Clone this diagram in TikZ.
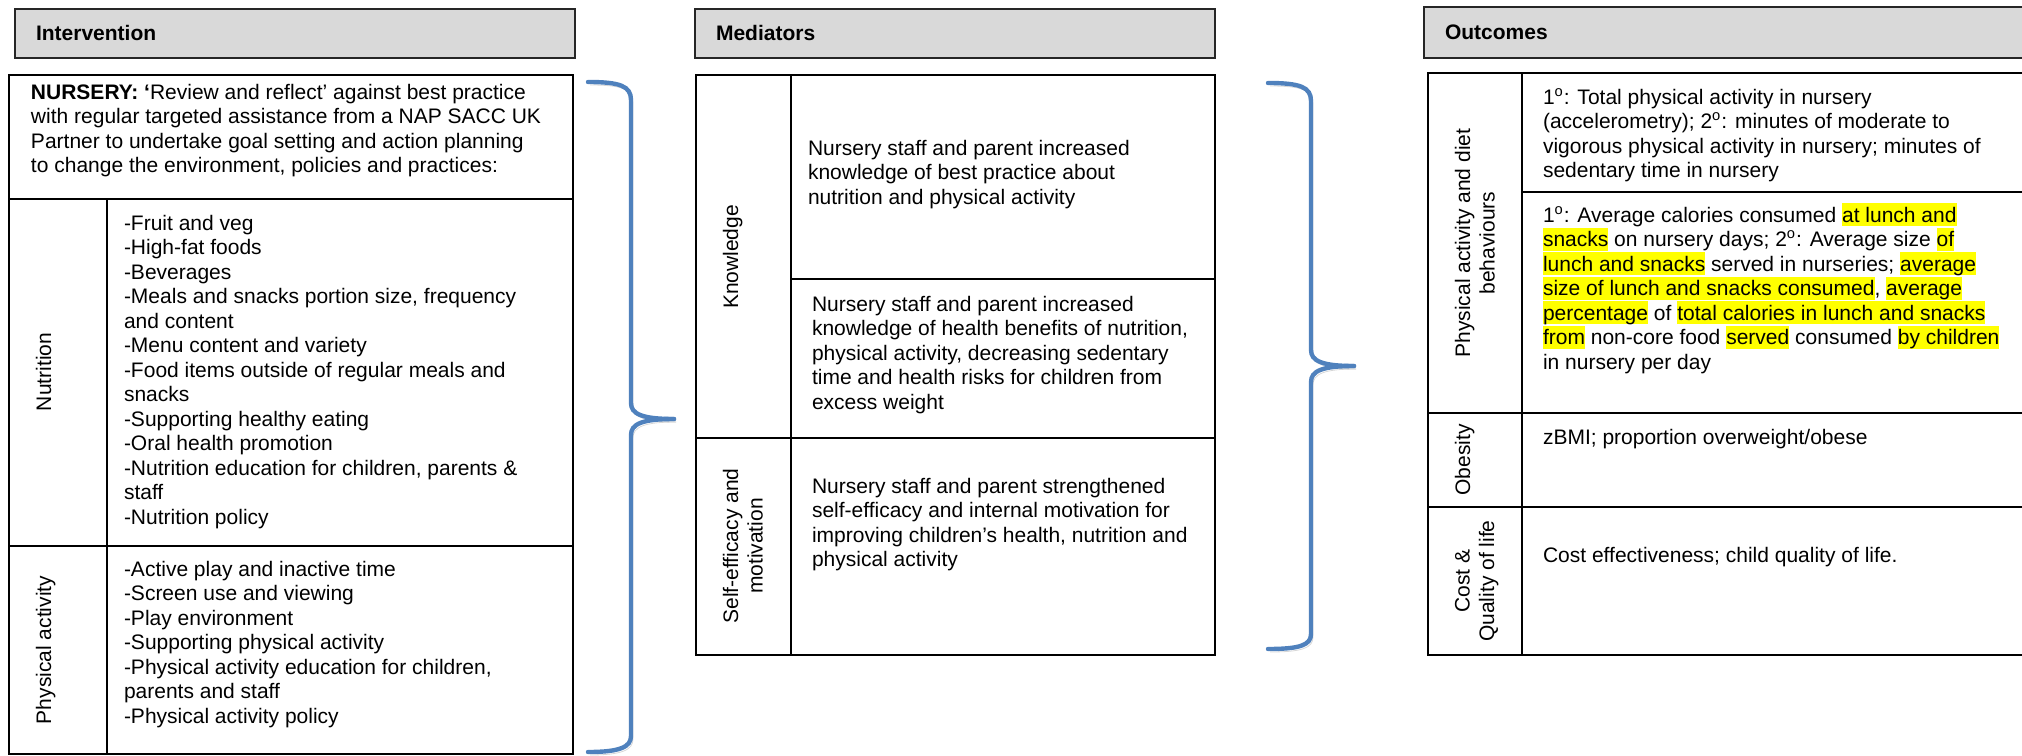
\documentclass[tikz,border=0pt]{standalone}
\usepackage{fontspec}
\setmainfont{Liberation Sans}
\usepackage{tikz}
\usetikzlibrary{arrows}
\definecolor{cd9d9d9}{RGB}{217,217,217}
\definecolor{c4f81bd}{RGB}{79,129,189}
\definecolor{cffff00}{RGB}{255,255,0}
\newcommand{\cellfont}{\fontsize{10.5}{12.25}\selectfont}
\newcommand{\hilite}[1]{{\setlength{\fboxsep}{0pt}\colorbox{cffff00}{\rule[-2.2pt]{0pt}{11.7pt}#1}}}
\newcommand{\topstrut}{\rule{0pt}{9.5pt}}
\newcommand{\ord}{\textsuperscript{o}}

\begin{document}
\begin{tikzpicture}[x=0.5pt, y=-0.5pt, inner sep=0pt, outer sep=0pt,
  rule/.style={draw=black,line join=miter,line width=0.9pt},
  headbox/.style={draw=black!85,fill=cd9d9d9,line width=1.1pt},
  headtxt/.style={anchor=base west,font=\cellfont\bfseries},
  celltxt/.style={anchor=north west,align=left,font=\cellfont},
  sidetxt/.style={anchor=north,rotate=90,align=center,font=\cellfont},
  brace/.style={draw=c4f81bd,line width=2.2pt,line cap=round,
    preaction={draw=black!35,opacity=0.45,transform canvas={shift={(1pt,-1.5pt)}}}}]
  \useasboundingbox (0,0) rectangle (2022,755);
  \clip (0,0) rectangle (2022,755);

  % headers
  \path[headbox] (15,9) rectangle (575,58);
  \path[headbox] (695,9) rectangle (1215,58);
  \path[headbox] (1424,7) rectangle (2040,58);
  \node[headtxt] (head-intervention) at (36,40.5) {Intervention};
  \node[headtxt] (head-mediators) at (716,40.5) {Mediators};
  \node[headtxt] (head-outcomes) at (1445,39.5) {Outcomes};

  % intervention table (text nodes hang from the top of their first line)
  \path[rule] (9,75) rectangle (573,754);
  \path[rule] (9,199) -- (573,199);
  \path[rule] (9,546) -- (573,546);
  \path[rule] (107,199) -- (107,754);
  \node[celltxt] (text-nursery) at (31,80)
    {\topstrut\textbf{NURSERY: `}Review and reflect' against best practice\\
     with regular targeted assistance from a NAP SACC UK\\
     Partner to undertake goal setting and action planning\\
     to change the environment, policies and practices:};
  \node[sidetxt] (side-nutrition) at (36,372) {Nutrition};
  \node[celltxt] (text-nutrition) at (124,211)
    {\topstrut-Fruit and veg\\
     -High-fat foods\\
     -Beverages\\
     -Meals and snacks portion size, frequency\\
     and content\\
     -Menu content and variety\\
     -Food items outside of regular meals and\\
     snacks\\
     -Supporting healthy eating\\
     -Oral health promotion\\
     -Nutrition education for children, parents \&\\
     staff\\
     -Nutrition policy};
  \node[sidetxt] (side-activity) at (36,650) {Physical activity};
  \node[celltxt] (text-activity) at (124,557)
    {\topstrut-Active play and inactive time\\
     -Screen use and viewing\\
     -Play environment\\
     -Supporting physical activity\\
     -Physical activity education for children,\\
     parents and staff\\
     -Physical activity policy};

  % mediators table
  \path[rule] (696,75) rectangle (1215,655);
  \path[rule] (791,75) -- (791,655);
  \path[rule] (791,279) -- (1215,279);
  \path[rule] (696,438) -- (1215,438);
  \node[sidetxt] (side-knowledge) at (723,257) {Knowledge};
  \node[celltxt] (text-practice) at (808,136)
    {\topstrut Nursery staff and parent increased\\
     knowledge of best practice about\\
     nutrition and physical activity};
  \node[celltxt] (text-benefits) at (812,292)
    {\topstrut Nursery staff and parent increased\\
     knowledge of health benefits of nutrition,\\
     physical activity, decreasing sedentary\\
     time and health risks for children from\\
     excess weight};
  \node[sidetxt] (side-efficacy) at (723,546) {Self-efficacy and\\motivation};
  \node[celltxt] (text-efficacy) at (812,474)
    {\topstrut Nursery staff and parent strengthened\\
     self-efficacy and internal motivation for\\
     improving children's health, nutrition and\\
     physical activity};

  % outcomes table
  \path[rule] (1428,73) rectangle (2040,655);
  \path[rule] (1522,73) -- (1522,655);
  \path[rule] (1522,192) -- (2040,192);
  \path[rule] (1428,413) -- (2040,413);
  \path[rule] (1428,507) -- (2040,507);
  \node[sidetxt] (side-behaviour) at (1455,243) {Physical activity and diet\\behaviours};
  \node[celltxt] (text-accel) at (1543,85)
    {\topstrut 1\ord: Total physical activity in nursery\\
     (accelerometry); 2\ord: minutes of moderate to\\
     vigorous physical activity in nursery; minutes of\\
     sedentary time in nursery};
  \node[celltxt] (text-calories) at (1543,203)
    {\topstrut 1\ord: Average calories consumed \hilite{at lunch and}\\
     \hilite{snacks} on nursery days; 2\ord: Average size \hilite{of}\\
     \hilite{lunch and snacks} served in nurseries; \hilite{average}\\
     \hilite{size of lunch and snacks consumed}, \hilite{average}\\
     \hilite{percentage} of \hilite{total calories in lunch and snacks}\\
     \hilite{from} non-core food \hilite{served} consumed \hilite{by children}\\
     in nursery per day};
  \node[sidetxt] (side-obesity) at (1455,460) {Obesity};
  \node[celltxt] (text-obesity) at (1543,425) {\topstrut zBMI; proportion overweight/obese};
  \node[sidetxt] (side-cost) at (1455,581) {Cost \&\\Quality of life};
  \node[celltxt] (text-cost) at (1543,543) {\topstrut Cost effectiveness; child quality of life.};

  % braces
  \coordinate (brace1-top) at (588,82);
  \coordinate (brace1-tip) at (674,419);
  \coordinate (brace1-end) at (588,752);
  \coordinate (brace2-top) at (1268,83);
  \coordinate (brace2-tip) at (1354,366);
  \coordinate (brace2-end) at (1268,649);
  \path[brace] (brace1-top) .. controls (620,82) and (631,86) .. (631,100)
    -- (631,403) .. controls (631,414) and (642,419) .. (brace1-tip);
  \path[brace] (brace1-tip) .. controls (642,419) and (631,424) .. (631,435)
    -- (631,736) .. controls (631,747) and (620,752) .. (brace1-end);
  \path[brace] (brace2-top) .. controls (1300,83) and (1311,87) .. (1311,101)
    -- (1311,350) .. controls (1311,361) and (1322,366) .. (brace2-tip);
  \path[brace] (brace2-tip) .. controls (1322,366) and (1311,371) .. (1311,382)
    -- (1311,634) .. controls (1311,645) and (1300,649) .. (brace2-end);
\end{tikzpicture}
\end{document}
